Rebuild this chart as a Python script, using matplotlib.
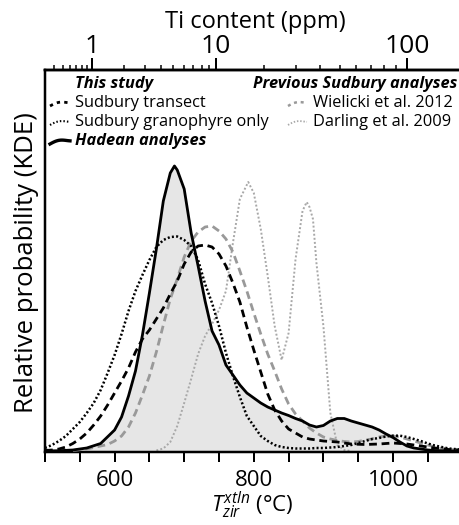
import numpy as np
import matplotlib
matplotlib.use('Agg')
import matplotlib.pyplot as plt

plt.rcParams['font.family'] = ['Open Sans', 'DejaVu Sans']
plt.rcParams['mathtext.fontset'] = 'custom'
plt.rcParams['mathtext.it'] = 'Open Sans:italic'
plt.rcParams['mathtext.rm'] = 'Open Sans'

# ---------------- data (relative KDE heights) ----------------
T_hadean = [500, 520, 540, 560, 580, 600, 610, 620, 630, 640, 650, 660, 670, 680, 686, 690,
            700, 710, 720, 730, 740, 750, 760, 770, 780, 790, 800, 810, 820, 830, 840, 850,
            860, 870, 880, 890, 900, 910, 920, 930, 940, 950, 960, 970, 980, 990, 1000, 1010,
            1020, 1030, 1040, 1050, 1060, 1080, 1096]
p_hadean = [0, 0.3, 1, 3, 7.5, 21, 34, 55, 80, 116, 158, 202, 250, 278, 285, 281,
            262, 218, 185, 150, 120, 106, 86, 76, 66, 58, 53, 48, 44, 41, 38, 35.5,
            32.5, 30, 26, 24, 25.5, 30, 32.5, 32.5, 30, 28, 26, 24, 21, 17, 13.5, 9,
            5, 3, 2, 1, 0.5, 0, 0]

T_transect = [500, 510, 520, 530, 540, 550, 560, 570, 580, 590, 600, 610, 620, 630, 640, 650,
              660, 670, 680, 690, 700, 710, 720, 730, 740, 750, 760, 770, 780, 790, 800, 810,
              820, 830, 840, 850, 860, 870, 880, 890, 900, 920, 940, 960, 980, 1000, 1020,
              1040, 1060, 1080, 1096]
p_transect = [0.5, 1, 2, 4, 7.5, 12, 18, 26, 35, 46, 58, 70, 83, 99, 112, 121,
              132, 143, 157, 170, 187, 199, 205, 206, 204, 197, 185, 168, 149, 124, 101, 79,
              57, 41, 30, 22, 18, 14, 12, 11, 10, 9, 7, 6.5, 7, 8, 7,
              5, 3, 1.5, 1]

T_granophyre = [500, 510, 520, 530, 540, 550, 560, 570, 580, 590, 600, 610, 620, 630, 640, 650,
                660, 670, 680, 690, 700, 710, 720, 730, 740, 750, 760, 770, 780, 790, 800, 810,
                820, 830, 840, 850, 860, 870, 880, 890, 900, 910, 920, 930, 940, 950, 960, 970,
                980, 990, 1000, 1010, 1020, 1030, 1040, 1050, 1060, 1070, 1080, 1096]
p_granophyre = [3, 6, 10, 15, 22, 29, 38, 48, 61, 78, 96, 117, 140, 160, 176, 191,
                204, 211, 214, 214.5, 211, 205, 191, 167, 148, 125, 98, 75, 54, 35, 25, 15,
                10, 6, 4, 3, 2.5, 2.5, 2.5, 3, 3, 3.5, 4, 5, 6, 8, 10, 12,
                13, 14.5, 15.3, 15.3, 14, 12, 10, 7.5, 5.5, 4, 2.5, 1.5]

T_wielicki = [540, 560, 570, 580, 590, 600, 610, 620, 630, 640, 650, 660, 670, 680, 690, 700,
              710, 720, 730, 740, 750, 760, 770, 780, 790, 800, 810, 820, 830, 840, 850, 860,
              870, 880, 890, 900, 910, 920, 930, 940, 950, 960, 970, 980, 990, 1000, 1010,
              1020, 1030, 1040, 1050, 1060, 1070, 1080, 1096]
p_wielicki = [0.5, 2, 3.5, 5, 6.5, 10, 15, 24, 38, 56, 75, 99, 126, 152, 172, 194,
              210, 219, 224, 225, 220, 212, 199, 180, 160, 138, 117, 97, 80, 62, 47, 37,
              30, 23, 18, 14, 12, 10.5, 9.5, 9, 9.5, 11, 12, 14, 15, 15, 14,
              12, 10, 8, 6, 4, 2.5, 1.5, 1]

T_darling = [660, 670, 680, 690, 700, 710, 720, 730, 740, 750, 760, 770, 780, 792, 800, 810,
             820, 830, 840, 850, 860, 870, 876, 880, 885, 890, 900, 910, 920, 930, 940]
p_darling = [0.5, 2.5, 9, 25, 48, 72, 97, 115, 127, 141, 160, 208, 252, 269, 258, 222,
             175, 125, 91, 118, 192, 240, 249, 244, 232, 188, 125, 38, 6, 1, 0]

ti_major = [1, 10, 100]
ti_minor = [0.4, 0.5, 0.6, 0.7, 0.8, 0.9, 2, 3, 4, 5, 6, 7, 8, 9,
            20, 30, 40, 50, 60, 70, 80, 90]
t_major = [600, 800, 1000]
t_minor = list(range(500, 1100, 50))

legend_left = ['Sudbury transect', 'Sudbury granophyre only']
legend_right = ['Wielicki et al. 2012', 'Darling et al. 2009']


def ti_to_T(ti):
    # Ti-in-zircon thermometer (Watson et al. 2006)
    return 4800.0 / (5.711 - np.log10(ti)) - 273.15


W, H = 460, 525
PT = 72 / 100  # points per pixel at dpi 100
fig = plt.figure(figsize=(W / 100, H / 100), dpi=100)
ax = fig.add_axes([45 / W, 73 / H, 415 / W, 382 / H])
xmax = 500 + 415 / 0.696
ax.set_xlim(500, xmax)
ax.set_ylim(-1, 381)

ax.fill_between(T_hadean, p_hadean, 0, color='#e6e6e6', zorder=1, lw=0)
ax.plot(T_darling, p_darling, color='#a8a8a8', lw=1.4, dashes=(1, 1.1), zorder=2)
ax.plot(T_wielicki, p_wielicki, color='#999999', lw=2.0, dashes=(2.8, 1.7), zorder=3)
ax.plot(T_granophyre, p_granophyre, color='black', lw=1.8, dashes=(0.8, 0.9), zorder=4)
ax.plot(T_transect, p_transect, color='black', lw=2.0, dashes=(2.8, 1.7), zorder=5)
ax.plot(T_hadean, p_hadean, color='black', lw=2.0, zorder=6)

for s in ['left', 'bottom', 'top']:
    ax.spines[s].set_linewidth(2.5 * PT)
ax.spines['right'].set_visible(False)
ax.set_yticks([])
ax.set_xticks(t_major)
ax.set_xticks(t_minor, minor=True)
ax.tick_params(axis='x', which='both', direction='out', length=10 * PT, width=2 * PT,
               labelsize=16, pad=6)
ax.set_xlabel(r'$T_{zir}^{xtln}$ (°C)', fontsize=16, labelpad=-1)


def fx(px):
    return px / W


def fy(py):
    return 1 - py / H


fig.text(fx(27), fy(263), 'Relative probability (KDE)', fontsize=18.5, rotation=90,
         ha='center', va='center')

ax2 = ax.twiny()
ax2.set_xlim(ax.get_xlim())
ax2.set_yticks([])
for s in ['left', 'bottom', 'right']:
    ax2.spines[s].set_visible(False)
ax2.spines['top'].set_linewidth(2.5 * PT)
ax2.set_xticks([ti_to_T(v) for v in ti_major])
ax2.set_xticklabels([str(v) for v in ti_major])
ax2.set_xticks([ti_to_T(v) for v in ti_minor], minor=True)
ax2.tick_params(axis='x', which='major', direction='out', length=12 * PT, width=2 * PT,
                labelsize=19, pad=4.7 * PT)
ax2.tick_params(axis='x', which='minor', direction='out', length=5 * PT, width=1.5 * PT)
for lab in ax2.get_xticklabels():
    lab.set_va('baseline')
fig.text(fx(255), fy(28.5), 'Ti content (ppm)', fontsize=17, ha='center', va='baseline')

# ---------------- legend drawn as text in pixel coordinates ----------------
fs = 11.8
fig.text(fx(75), fy(84), 'This study', fontsize=fs, weight='bold', style='italic', va='center', ha='left')
fig.text(fx(457), fy(84), 'Previous Sudbury analyses', fontsize=fs, weight='bold', style='italic',
         va='center', ha='right')
fig.text(fx(75), fy(103), legend_left[0], fontsize=fs, va='center', ha='left')
fig.text(fx(75), fy(122), legend_left[1], fontsize=fs, va='center', ha='left')
fig.text(fx(75), fy(141), 'Hadean analyses', fontsize=fs, weight='bold', style='italic',
         va='center', ha='left')
fig.text(fx(313), fy(103), legend_right[0], fontsize=fs, va='center', ha='left')
fig.text(fx(313), fy(122), legend_right[1], fontsize=fs, va='center', ha='left')

hx = np.linspace(0, 1, 20)
hy = np.sin(hx * np.pi * 1.2) * 0.3 + hx * 0.7


def handle(x0, x1, yc, **kw):
    xs = x0 + hx * (x1 - x0)
    ys = yc + 3 - hy * 6
    fig.add_artist(plt.Line2D([fx(v) for v in xs], [fy(v) for v in ys],
                              transform=fig.transFigure, **kw))


handle(50, 70, 103, color='black', lw=2.0, dashes=(1.2, 1.5))
handle(50, 70, 122, color='black', lw=1.5, dashes=(0.7, 1.0))
handle(50, 70, 141, color='black', lw=2.4)
handle(288, 307, 103, color='#999999', lw=1.8, dashes=(1.2, 1.5))
handle(288, 307, 122, color='#a8a8a8', lw=1.3, dashes=(0.8, 1.0))

fig.savefig('out.png', dpi=100)
